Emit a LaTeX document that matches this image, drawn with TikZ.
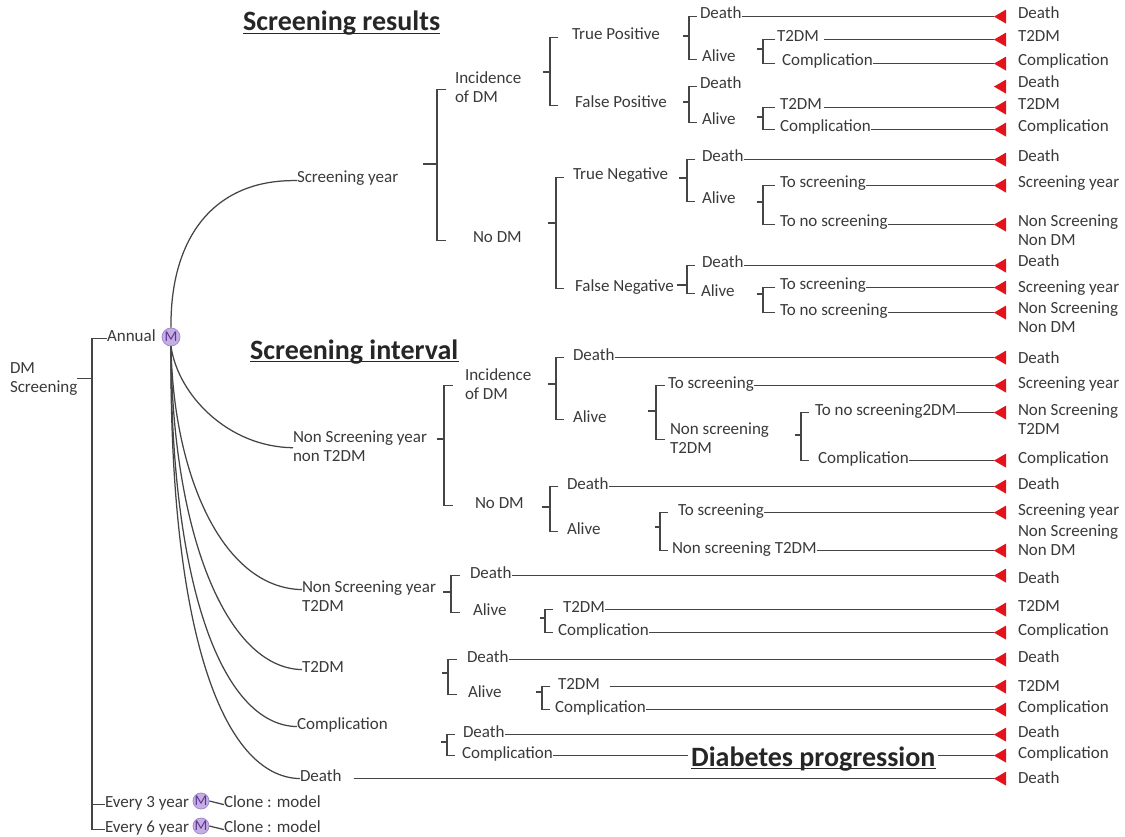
\documentclass[tikz,border=0pt]{standalone}
\usepackage{fontspec}
\setmainfont{Carlito}
\usetikzlibrary{calc}
\definecolor{ink}{HTML}{3A3A3A}
\definecolor{lnc}{HTML}{454545}
\definecolor{hdrc}{HTML}{262626}
\definecolor{termred}{HTML}{E3121B}
\definecolor{mfill}{HTML}{C4AEE2}
\definecolor{mdraw}{HTML}{9F84CC}
\definecolor{mtext}{HTML}{5E3396}
\newcommand\fs{\fontsize{17}{19}\selectfont}
\newcommand\hfs{\fontsize{28}{30}\selectfont\bfseries}
\newcommand\two[2]{\begin{tabular}[t]{@{}l@{}}#1\\#2\end{tabular}}
% bracket: coordinate name, top child anchor, bottom child anchor, left tick, right tick
\newcommand\bracketd[5]{%
  \draw[ln] ($(#1)+(-#4,0)$) -- (#1);
  \draw[ln] ($(#1 |- #2)+(#5,0)$) -- (#1 |- #2) -- (#1 |- #3) -- ($(#1 |- #3)+(#5,0)$);}
% terminal triangle + label
\newcommand\tri[3]{%
  \fill[termred] (#1) -- ++(12,-7) -- ++(0,14) -- cycle;
  \node[lbl] (#1l) at (1018,#2) {#3};}
% [gap]{name}{source anchor}{label y}{label}
\newcommand\termn[5][0pt]{%
  \coordinate (#2) at (#3 -| xT);
  \draw[ln, shorten <=#1] (#3) -- (#2);
  \tri{#2}{#4}{#5}}
\begin{document}
\begin{tikzpicture}[x=1pt, y=-1pt,
  ln/.style={draw=lnc, line width=1.25pt},
  lbl/.style={anchor=base west, inner sep=0pt, outer sep=0pt, font=\fs, text=ink, yshift=-5pt},
  hdr/.style={anchor=base west, inner xsep=3pt, inner ysep=0pt, fill=white, font=\hfs, text=hdrc},
  mk/.style={circle, fill=mfill, draw=mdraw, line width=0.7pt, inner sep=0pt, text=mtext, font=\fontsize{15}{15}\selectfont}]
\fill[white] (0,0) rectangle (1125,837);
\useasboundingbox (0,0) rectangle (1125,837);
\coordinate (xT) at (994,0);
\coordinate (xR) at (92,0);

% ---------- root ----------
\node[lbl] (dm) at (10,368) {\two{DM}{Screening}};
\node[lbl] (annual) at (107,336) {Annual};
\node[mk, minimum size=18pt] (mA) at (171,337) {M};
\node[lbl] (ev3) at (105,802) {Every 3 year};
\node[mk, minimum size=15pt] (m3) at (201,801) {M};
\node[lbl] (cl3) at (224,802) {Clone : model};
\node[lbl] (ev6) at (105,827) {Every 6 year};
\node[mk, minimum size=15pt] (m6) at (201,826) {M};
\node[lbl] (cl6) at (224,827) {Clone : model};
\coordinate (bRoot) at (dm.east -| xR);
\draw[ln] (dm.east) -- (bRoot);
\draw[ln] (annual.mid west) -| (bRoot) |- (ev6.mid west);
\draw[ln] (bRoot |- ev3.mid west) -- (ev3.mid west);
\draw[ln] (m3.east) -- (cl3.mid west);
\draw[ln] (m6.east) -- (cl6.mid west);

% ---------- Markov states ----------
\node[lbl] (sy) at (297,178) {Screening year};
\node[lbl] (nsy1) at (293,437) {\two{Non Screening year}{non T2DM}};
\node[lbl] (nsy2) at (302,587) {\two{Non Screening year}{T2DM}};
\node[lbl] (mT2) at (302,667) {T2DM};
\node[lbl] (mComp) at (297,724) {Complication};
\node[lbl] (mDeath) at (300,776) {Death};
\draw[ln] (mA.north) .. controls (170,240) and (212,179) .. (sy.mid west);
\draw[ln] (mA.south) .. controls (178,395) and (228,447) .. (nsy1.west);
\draw[ln] (mA.south) .. controls (173,470) and (220,588) .. (nsy2.mid west);
\draw[ln] (mA.south) .. controls (172,530) and (225,668) .. (mT2.mid west);
\draw[ln] (mA.south) .. controls (170,580) and (220,725) .. (mComp.mid west);
\draw[ln] (mA.south) .. controls (169,630) and (222,777) .. (mDeath.mid west);

% ---------- Screening year ----------
\node[lbl] (inc1) at (455,79) {\two{Incidence}{of DM}};
\node[lbl] (nodm1) at (473,238) {No DM};
\coordinate (bSY) at (437,164);
\bracketd{bSY}{inc1.west}{nodm1.mid west}{14}{9}

\node[lbl] (tp) at (572,35) {True Positive};
\node[lbl] (fp) at (575,103) {False Positive};
\coordinate (bI1) at (550,72);
\bracketd{bI1}{tp.mid west}{fp.mid west}{7}{8}

\node[lbl] (d1) at (700,14) {Death};
\node[lbl] (a1) at (702,57) {Alive};
\coordinate (bTP) at (689,36);
\bracketd{bTP}{d1.mid west}{a1.mid west}{6}{8}
\node[lbl] (t2a) at (777,37) {T2DM};
\node[lbl] (ca) at (782,61) {Complication};
\coordinate (bA1) at (763,49);
\bracketd{bA1}{t2a.mid west}{ca.mid west}{6}{12}
\termn{T1}{d1.mid east}{14}{Death}
\termn[5pt]{T2}{t2a.mid east}{37}{T2DM}
\termn{T3}{ca.mid east}{61}{Complication}

\node[lbl] (d2) at (700,84) {Death};
\node[lbl] (a2) at (702,120) {Alive};
\coordinate (bFP) at (689,102);
\bracketd{bFP}{d2.mid west}{a2.mid west}{6}{8}
\coordinate (T4) at (d2.mid east -| xT);
\tri{T4}{83}{Death}
\node[lbl] (t2b) at (780,105) {T2DM};
\node[lbl] (cb) at (780,127) {Complication};
\coordinate (bA2) at (763,117);
\bracketd{bA2}{t2b.mid west}{cb.mid west}{6}{12}
\termn[2pt]{T5}{t2b.mid east}{105}{T2DM}
\termn{T6}{cb.mid east}{127}{Complication}

\node[lbl] (tn) at (573,175) {True Negative};
\node[lbl] (fn) at (575,286) {False Negative};
\coordinate (bN1) at (556,223);
\bracketd{bN1}{tn.mid west}{fn.mid west}{8}{8}

\node[lbl] (d3) at (702,157) {Death};
\node[lbl] (a3) at (702,199) {Alive};
\coordinate (bTN) at (687,178);
\bracketd{bTN}{d3.mid west}{a3.mid west}{8}{8}
\termn{T7}{d3.mid east}{157}{Death}
\node[lbl] (ts1) at (780,183) {To screening};
\node[lbl] (tns1) at (780,222) {To no screening};
\coordinate (bA3) at (763,202);
\bracketd{bA3}{ts1.mid west}{tns1.mid west}{6}{12}
\termn{T8}{ts1.mid east}{183}{Screening year}
\termn{T9}{tns1.mid east}{222}{\two{Non Screening}{Non DM}}

\node[lbl] (d4) at (702,263) {Death};
\node[lbl] (a4) at (701,291) {Alive};
\coordinate (bFN) at (687,285);
\bracketd{bFN}{d4.mid west}{a4.mid west}{10}{8}
\termn{T10}{d4.mid east}{262}{Death}
\node[lbl] (ts2) at (780,285) {To screening};
\node[lbl] (tns2) at (780,310) {To no screening};
\coordinate (bA4) at (763,294);
\bracketd{bA4}{ts2.mid west}{tns2.mid west}{6}{12}
\termn{T11}{ts2.mid east}{287}{Screening year}
\termn{T12}{tns2.mid east}{308}{\two{Non Screening}{Non DM}}

% ---------- Non screening year non T2DM ----------
\node[lbl] (inc2) at (465,375) {\two{Incidence}{of DM}};
\node[lbl] (nodm2) at (475,503) {No DM};
\coordinate (bNS1) at (444,439);
\bracketd{bNS1}{inc2.west}{nodm2.mid west}{7}{9}

\node[lbl] (d5) at (573,355) {Death};
\node[lbl] (a5) at (573,417) {Alive};
\coordinate (bI2) at (556,384);
\bracketd{bI2}{d5.mid west}{a5.mid west}{8}{8}
\termn{T13}{d5.mid east}{358}{Death}
\node[lbl] (ts3) at (668,383) {To screening};
\node[lbl] (ns3) at (670,429) {\two{Non screening}{T2DM}};
\coordinate (bA5) at (656,411);
\bracketd{bA5}{ts3.mid west}{ns3.west}{8}{9}
\termn{T14}{ts3.mid east}{383}{Screening year}
\node[lbl] (tn2dm) at (815,410) {To no screening2DM};
\node[lbl] (comp3) at (818,458) {Complication};
\coordinate (bNS3) at (801,435);
\bracketd{bNS3}{tn2dm.mid west}{comp3.mid west}{6}{8}
\termn{T15}{tn2dm.mid east}{410}{\two{Non Screening}{T2DM}}
\termn{T16}{comp3.mid east}{458}{Complication}

\node[lbl] (d6) at (567,484) {Death};
\node[lbl] (a6) at (567,529) {Alive};
\coordinate (bN2) at (550,507);
\bracketd{bN2}{d6.mid west}{a6.mid west}{8}{8}
\termn{T17}{d6.mid east}{484}{Death}
\node[lbl] (ts4) at (678,510) {To screening};
\node[lbl] (nst) at (672,548) {Non screening T2DM};
\coordinate (bA6) at (660,527);
\bracketd{bA6}{ts4.mid west}{nst.mid west}{5}{8}
\termn{T18}{ts4.mid east}{510}{Screening year}
\termn{T19}{nst.mid east}{531}{\two{Non Screening}{Non DM}}

% ---------- Non screening year T2DM ----------
\node[lbl] (d7) at (470,573) {Death};
\node[lbl] (a7) at (473,610) {Alive};
\coordinate (bNS2) at (451,592);
\bracketd{bNS2}{d7.mid west}{a7.mid west}{8}{9}
\termn{T20}{d7.mid east}{578}{Death}
\node[lbl] (t2c) at (563,607) {T2DM};
\node[lbl] (cc) at (558,630) {Complication};
\coordinate (bA7) at (545,618);
\bracketd{bA7}{t2c.mid west}{cc.mid west}{5}{8}
\termn{T21}{t2c.mid east}{606}{T2DM}
\termn{T22}{cc.mid east}{630}{Complication}

% ---------- T2DM ----------
\node[lbl] (d8) at (467,657) {Death};
\node[lbl] (a8) at (468,692) {Alive};
\coordinate (bT2) at (448,673);
\bracketd{bT2}{d8.mid west}{a8.mid west}{6}{9}
\termn{T23}{d8.mid east}{657}{Death}
\node[lbl] (t2d) at (558,684) {T2DM};
\node[lbl] (cd) at (555,707) {Complication};
\coordinate (bA8) at (542,692);
\bracketd{bA8}{t2d.mid west}{cd.mid west}{6}{8}
\termn[10pt]{T24}{t2d.mid east}{686}{T2DM}
\termn{T25}{cd.mid east}{707}{Complication}

% ---------- Complication ----------
\node[lbl] (d9) at (463,732) {Death};
\node[lbl] (cm) at (462,753) {Complication};
\coordinate (bCo) at (447,742);
\bracketd{bCo}{d9.mid west}{cm.mid west}{6}{8}
\termn{T26}{d9.mid east}{732}{Death}
\termn{T27}{cm.mid east}{753}{Complication}

% ---------- Death ----------
\termn[12pt]{T28}{mDeath.mid east}{778}{Death}

% ---------- headers ----------
\node[hdr] (hSR) at (240,31) {Screening results};
\node[hdr] (hSI) at (247,359) {Screening interval};
\node[hdr] (hDP) at (688,766) {Diabetes progression};
\foreach \h in {hSR,hSI,hDP}
  \draw[draw=hdrc, line width=1.4pt] ($(\h.base west)+(3,2.5)$) -- ($(\h.base east)+(-3,2.5)$);
\end{tikzpicture}
\end{document}
